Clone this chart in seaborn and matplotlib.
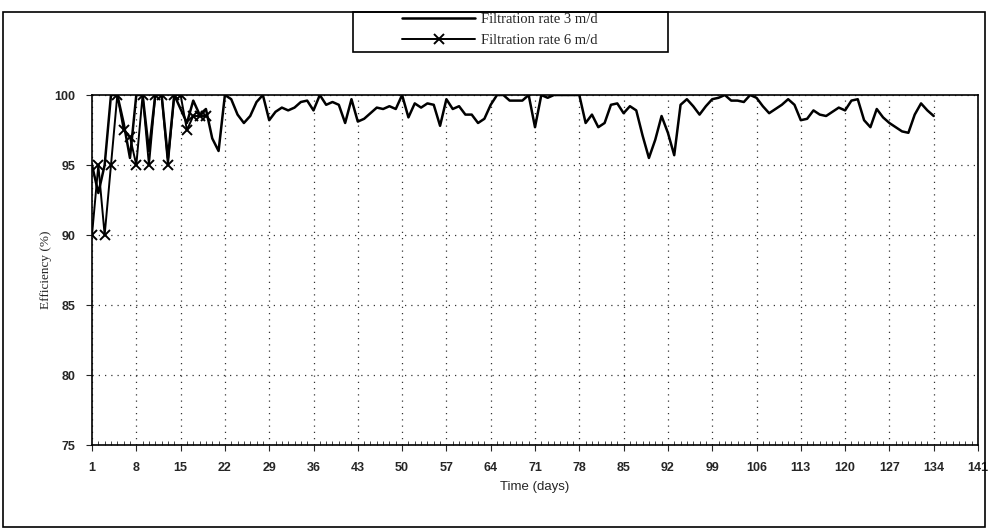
import pandas as pd
import numpy as np
import matplotlib.pyplot as plt
import seaborn as sns
from matplotlib.patches import Rectangle

# efficiency readings (%) per day
eff_3md = [95.0, 93.0, 95.0, 100.0, 100.0, 98.0, 95.5, 100.0, 100.0, 96.0,
           100.0, 100.0, 95.5, 100.0, 99.0, 98.0, 99.6, 98.6, 99.0, 96.9,
           96.0, 100.0, 99.7, 98.6, 98.0, 98.5, 99.5, 100.0, 98.2, 98.8,
           99.1, 98.9, 99.1, 99.5, 99.6, 98.9, 100.0, 99.3, 99.5, 99.3,
           98.0, 99.7, 98.1, 98.3, 98.7, 99.1, 99.0, 99.2, 99.0, 100.0,
           98.4, 99.4, 99.1, 99.4, 99.3, 97.8, 99.7, 99.0, 99.2, 98.6,
           98.6, 98.0, 98.3, 99.3, 100.0, 100.0, 99.6, 99.6, 99.6, 100.0,
           97.7, 100.0, 99.8, 100.0, 100.0, 100.0, 100.0, 100.0, 98.0, 98.6,
           97.7, 98.0, 99.3, 99.4, 98.7, 99.2, 98.9, 97.1, 95.5, 96.8,
           98.5, 97.3, 95.7, 99.3, 99.7, 99.2, 98.6, 99.2, 99.7, 99.8,
           100.0, 99.6, 99.6, 99.5, 100.0, 99.8, 99.2, 98.7, 99.0, 99.3,
           99.7, 99.3, 98.2, 98.3, 98.9, 98.6, 98.5, 98.8, 99.1, 98.9,
           99.6, 99.7, 98.2, 97.7, 99.0, 98.4, 98.0, 97.7, 97.4, 97.3,
           98.6, 99.4, 98.9, 98.5]
days_3md = list(range(1, len(eff_3md) + 1))

eff_6md = [90.0, 95.0, 90.0, 95.0, 100.0, 97.5, 97.0, 95.0, 100.0, 95.0,
           100.0, 100.0, 95.0, 100.0, 100.0, 97.5, 98.5, 98.5, 98.5]
days_6md = list(range(1, len(eff_6md) + 1))

tick_days = list(range(1, 142, 7))
y_ticks = [75, 80, 85, 90, 95, 100]

df3 = pd.DataFrame({'day': days_3md, 'eff': eff_3md})
df6 = pd.DataFrame({'day': days_6md, 'eff': eff_6md})

sns.set_style('white')
plt.rcParams['font.family'] = ['Liberation Sans', 'DejaVu Sans']

fig = plt.figure(figsize=(9.89, 5.31), dpi=100)
ax = fig.add_axes([92 / 989, 1 - 445 / 531, (978 - 92) / 989, (445 - 95) / 531])

sns.lineplot(data=df3, x='day', y='eff', color='black', linewidth=1.8, ax=ax,
             label='Filtration rate 3 m/d')
sns.lineplot(data=df6, x='day', y='eff', color='black', linewidth=1.4, ax=ax,
             marker='x', markersize=7, markeredgewidth=1.4, markeredgecolor='black',
             label='Filtration rate 6 m/d')

# axis limits and ticks
ax.set_xlim(1, 141)
ax.set_ylim(75, 100)
ax.set_xticks(tick_days)
ax.set_xticks(range(1, 142), minor=True)
ax.set_yticks(y_ticks)
ax.tick_params(axis='both', which='major', labelsize=9, length=4, direction='out',
               bottom=True, left=True, pad=8)
ax.tick_params(axis='x', which='minor', length=3, direction='in', bottom=True)
for lbl in ax.get_xticklabels() + ax.get_yticklabels():
    lbl.set_fontweight('semibold')

ax.set_xlabel('Time (days)', fontsize=9.5, labelpad=5)
ax.set_ylabel('Efficiency (%)', fontsize=9.5, family='Liberation Serif', labelpad=2)

# dotted grid like the scanned original
ax.grid(True, which='major', color='black', linestyle=(0, (1, 4)), linewidth=0.9, alpha=0.8)
for s in ax.spines.values():
    s.set_color('black')
    s.set_linewidth(1.2)

# legend at the top, boxed
leg = ax.legend(loc='center', bbox_to_anchor=(500 / 989, 1 - 30 / 531),
                bbox_transform=fig.transFigure, frameon=False,
                prop={'family': 'Liberation Serif', 'size': 10.5},
                handlelength=5.0, handletextpad=0.4, labelspacing=0.5)
fig.patches.append(Rectangle((353 / 989, 1 - 52 / 531), (668 - 353) / 989, 40 / 531,
                             transform=fig.transFigure, fill=False,
                             edgecolor='black', linewidth=1.2))

# outer border around the whole chart
fig.patches.append(Rectangle((3 / 989, 4 / 531), (985 - 3) / 989, (519 - 4) / 531,
                             transform=fig.transFigure, fill=False,
                             edgecolor='black', linewidth=1.2))

plt.savefig('out.png', dpi=100)
